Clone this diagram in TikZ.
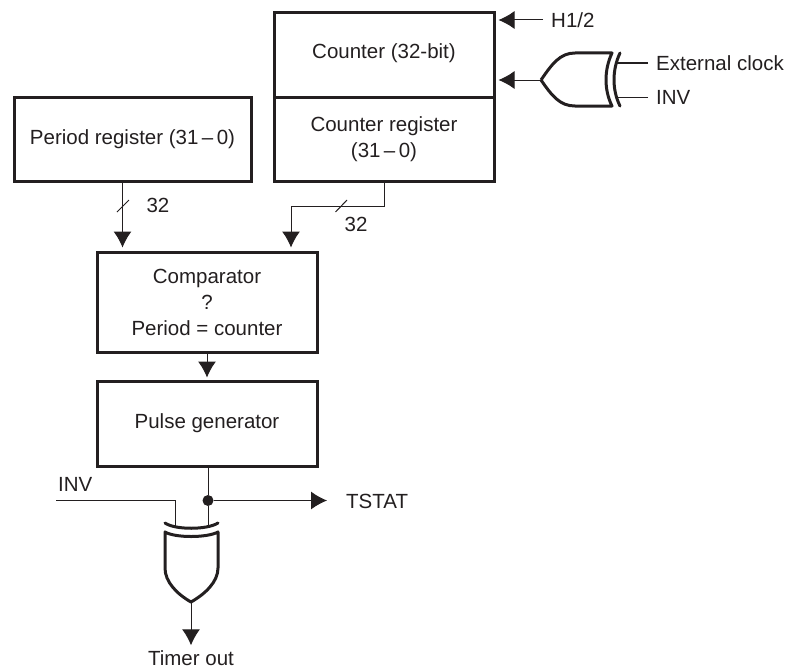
\documentclass[tikz,border=0pt]{standalone}
\usepackage{fontspec}
\setmainfont{Liberation Sans}
\usetikzlibrary{arrows.meta}
\definecolor{ink}{HTML}{231F20}
\tikzset{
    blockbox/.style={draw=ink, line width=3pt, text=ink, align=center, inner sep=0pt},
    wire/.style={draw=ink, line width=1pt},
    gateline/.style={draw=ink, line width=3pt, line join=round},
    lbl/.style={text=ink, inner sep=0pt},
}
\begin{document}
\begin{tikzpicture}[>={Latex[length=16pt,width=18pt]}, x=1pt, y=-1pt, font=\fontsize{20.5}{26}\selectfont]
    \useasboundingbox (0,0) rectangle (797,669);
    % blocks
    \node[blockbox, minimum width=237pt, minimum height=84pt] (period) at (132.5,139) {Period register (31\,–\,0)};
    \node[blockbox, minimum width=220pt, minimum height=84pt] (counter) at (384,55) {};
    \node[lbl] at (384,53) {Counter (32-bit)};
    \node[blockbox, minimum width=220pt, minimum height=84pt] (creg) at (384,139) {Counter register\\(31\,–\,0)};
    \node[blockbox, minimum width=220pt, minimum height=100pt] (comp) at (207,302) {Comparator\\?\\Period = counter};
    \node[blockbox, minimum width=220pt, minimum height=85pt] (pulse) at (207,423.5) {Pulse generator};
    % labels
    \node[lbl, anchor=west] (h1) at (551,20) {H1/2};
    \node[lbl, anchor=west] (ext) at (656,63) {External clock};
    \node[lbl, anchor=west] (inva) at (656,97) {INV};
    \node[lbl] (w32a) at (158,205) {32};
    \node[lbl] (w32b) at (356,224) {32};
    \node[lbl, anchor=west] (invb) at (58,484) {INV};
    \node[lbl, anchor=west] (tstat) at (346,501) {TSTAT};
    \node[lbl] (out) at (191,658) {Timer out};
    % gate at the counter
    \coordinate (gatea) at (541,80);
    \draw[gateline] (gatea) .. controls (552,64) and (560,53) .. (575,53) -- (612,53)
        .. controls (604,70) and (604,90) .. (612,106) -- (575,106)
        .. controls (560,106) and (552,96) .. (gatea);
    \draw[gateline, line cap=round] (620,53) .. controls (612,70) and (612,90) .. (620,106);
    \draw[wire] (ext.west)++(-8,0) -- (616,63);
    \draw[wire] (inva.west)++(-8,0) -- (616,97);
    \draw[wire, ->, shorten >=3pt] (gatea) -- (counter.east |- gatea);
    \draw[wire, ->, shorten >=3pt] (h1.west)++(-8,0) -- (counter.east |- h1.west);
    % gate at the output
    \coordinate (gateb) at (191,602);
    \draw[gateline] (165,532) .. controls (175,538) and (207,538) .. (218,532) -- (218,568)
        .. controls (218,582) and (205,594) .. (gateb)
        .. controls (177,594) and (165,582) .. (165,568) -- cycle;
    \draw[gateline, line cap=round] (165,523) .. controls (175,530) and (207,530) .. (218,523);
    \node[circle, fill=ink, inner sep=0pt, minimum size=11pt] (dot) at (208,500.5) {};
    % wires
    \draw[wire, ->, shorten >=3pt] (period.south -| 122.5,0) -- (comp.north -| 122.5,0);
    \draw[wire] (117,212) -- (129,200);
    \draw[wire, ->, shorten >=3pt] (creg.south) -- (384,206) -- (291,206) -- (comp.north -| 291,0);
    \draw[wire] (335.5,212) -- (347,200);
    \draw[wire, ->, shorten >=2pt] (comp) -- (pulse);
    \draw[wire] (pulse.south -| dot) -- (dot) -- (208,527);
    \draw[wire, ->] (dot) -- (327,500.5);
    \draw[wire] (56,500.5) -- (175,500.5) -- (175,526);
    \draw[wire, ->, shorten >=5pt] (gateb) -- (out.north);
\end{tikzpicture}
\end{document}
